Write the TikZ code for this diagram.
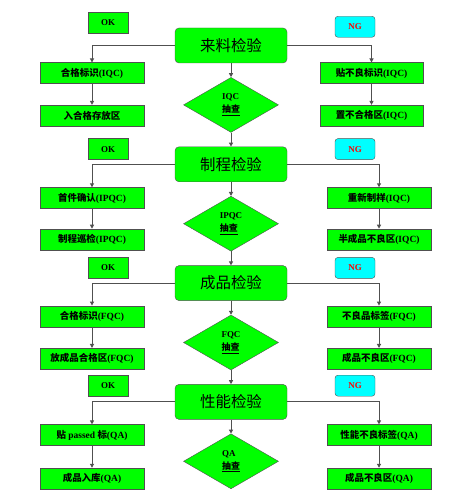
\documentclass[tikz,border=0pt]{standalone}
\usepackage{fontspec}
\setmainfont{Liberation Serif}
\newfontfamily\cjk{Noto Sans CJK SC}
\usetikzlibrary{arrows.meta,positioning,shapes.geometric}
\newcommand{\zh}[1]{{\cjk #1}}
\definecolor{boxgreen}{RGB}{0,255,0}
\definecolor{ngcyan}{RGB}{0,255,255}
\definecolor{edgegray}{RGB}{80,80,80}
\tikzset{
  stage node/.style={draw=edgegray,rounded corners=4bp,fill=boxgreen,
    minimum width=112bp,minimum height=35bp,
    font=\fontsize{15.5}{18}\selectfont},
  check node/.style={diamond,draw=edgegray,fill=boxgreen,aspect=1.73,
    minimum width=95bp,minimum height=55bp,inner sep=0pt,align=left,
    font=\fontsize{9}{13}\selectfont\bfseries},
  item node/.style={draw=edgegray,fill=boxgreen,minimum width=104bp,
    minimum height=21bp,inner sep=1pt,
    font=\fontsize{9.5}{11}\selectfont\bfseries},
  ok node/.style={draw=edgegray,fill=boxgreen,minimum width=40bp,
    minimum height=21bp,inner sep=1pt,
    font=\fontsize{9}{11}\selectfont\bfseries},
  ng node/.style={ok node,fill=ngcyan,rounded corners=3bp,text=red},
  flow arrow/.style={-{Triangle[length=4bp,width=4bp]},edgegray,
    line width=1bp},
}

\begin{document}
\begin{tikzpicture}[x=1bp,y=1bp,node distance=14bp]
  \useasboundingbox (0,0) rectangle (454,-498);

  % Incoming material inspection.
  \node[stage node] (iqc) at (231,-45.5) {\zh{来料检验}};
  \node[check node,below=of iqc] (iqccheck) {IQC\\\zh{\underline{抽查}}};
  \node[ok node,above=12.5bp of iqc.center,xshift=-123bp] (iqcok) {OK};
  \node[ng node,above=8bp of iqc.center,xshift=124bp] (iqcng) {NG};
  \node[item node,below=17bp of iqc.center,xshift=-139bp] (iqcpass)
    {\zh{合格标识}(IQC)};
  \node[item node,below=21bp of iqcpass] (iqcstore) {\zh{入合格存放区}};
  \node[item node,below=17bp of iqc.center,xshift=140.5bp,
    minimum width=103bp] (iqcfail) {\zh{贴不良标识}(IQC)};
  \node[item node,below=21bp of iqcfail,minimum width=103bp] (iqcreject)
    {\zh{置不合格区}(IQC)};
  \draw[flow arrow] (iqc.west) -| (iqcpass.north);
  \draw[flow arrow] (iqcpass) -- (iqcstore);
  \draw[flow arrow] (iqc.east) -| (iqcfail.north);
  \draw[flow arrow] (iqcfail) -- (iqcreject);
  \draw[flow arrow] (iqc) -- (iqccheck);

  % In-process inspection.
  \node[stage node,below=of iqccheck] (ipqc) {\zh{制程检验}};
  \node[check node,below=of ipqc] (ipqccheck) {IPQC\\\zh{\underline{抽查}}};
  \node[ok node,above=4.5bp of ipqc.center,xshift=-123bp] (ipqcok) {OK};
  \node[ng node,above=4.5bp of ipqc.center,xshift=124bp] (ipqcng) {NG};
  \node[item node,below=23bp of ipqc.center,xshift=-139bp] (ipqcpass)
    {\zh{首件确认}(IPQC)};
  \node[item node,below=20bp of ipqcpass] (ipqcpatrol)
    {\zh{制程巡检}(IPQC)};
  \node[item node,below=23bp of ipqc.center,xshift=148bp] (ipqcfail)
    {\zh{重新制样}(IQC)};
  \node[item node,below=20bp of ipqcfail] (ipqcreject)
    {\zh{半成品不良区}(IQC)};
  \draw[flow arrow] (iqccheck) -- (ipqc);
  \draw[flow arrow] (ipqc.west) -| (ipqcpass.north);
  \draw[flow arrow] (ipqcpass) -- (ipqcpatrol);
  \draw[flow arrow] (ipqc.east) -| (ipqcfail.north);
  \draw[flow arrow] (ipqcfail) -- (ipqcreject);
  \draw[flow arrow] (ipqc) -- (ipqccheck);

  % Finished goods inspection.
  \node[stage node,below=of ipqccheck] (fqc) {\zh{成品检验}};
  \node[check node,below=of fqc] (fqccheck) {FQC\\\zh{\underline{抽查}}};
  \node[ok node,above=4.5bp of fqc.center,xshift=-123bp] (fqcok) {OK};
  \node[ng node,above=4.5bp of fqc.center,xshift=124bp] (fqcng) {NG};
  \node[item node,below=22.5bp of fqc.center,xshift=-139bp] (fqcpass)
    {\zh{合格标识}(FQC)};
  \node[item node,below=21bp of fqcpass] (fqcstore)
    {\zh{放成品合格区}(FQC)};
  \node[item node,below=22.5bp of fqc.center,xshift=148bp] (fqcfail)
    {\zh{不良品标签}(FQC)};
  \node[item node,below=21bp of fqcfail] (fqcreject)
    {\zh{成品不良区}(FQC)};
  \draw[flow arrow] (ipqccheck) -- (fqc);
  \draw[flow arrow] (fqc.west) -| (fqcpass.north);
  \draw[flow arrow] (fqcpass) -- (fqcstore);
  \draw[flow arrow] (fqc.east) -| (fqcfail.north);
  \draw[flow arrow] (fqcfail) -- (fqcreject);
  \draw[flow arrow] (fqc) -- (fqccheck);

  % Performance inspection.
  \node[stage node,below=of fqccheck] (qa) {\zh{性能检验}};
  \node[check node,below=of qa] (qacheck) {QA\\\zh{\underline{抽查}}};
  \node[ok node,above=5.5bp of qa.center,xshift=-123bp] (qaok) {OK};
  \node[ng node,above=5.5bp of qa.center,xshift=124bp] (qang) {NG};
  \node[item node,below=22.5bp of qa.center,xshift=-139bp] (qapass)
    {\zh{贴} passed \zh{标}(QA)};
  \node[item node,below=22bp of qapass] (qastore) {\zh{成品入库}(QA)};
  \node[item node,below=22.5bp of qa.center,xshift=148bp] (qafail)
    {\zh{性能不良标签}(QA)};
  \node[item node,below=22bp of qafail] (qareject)
    {\zh{成品不良区}(QA)};
  \draw[flow arrow] (fqccheck) -- (qa);
  \draw[flow arrow] (qa.west) -| (qapass.north);
  \draw[flow arrow] (qapass) -- (qastore);
  \draw[flow arrow] (qa.east) -| (qafail.north);
  \draw[flow arrow] (qafail) -- (qareject);
  \draw[flow arrow] (qa) -- (qacheck);
\end{tikzpicture}
\end{document}
